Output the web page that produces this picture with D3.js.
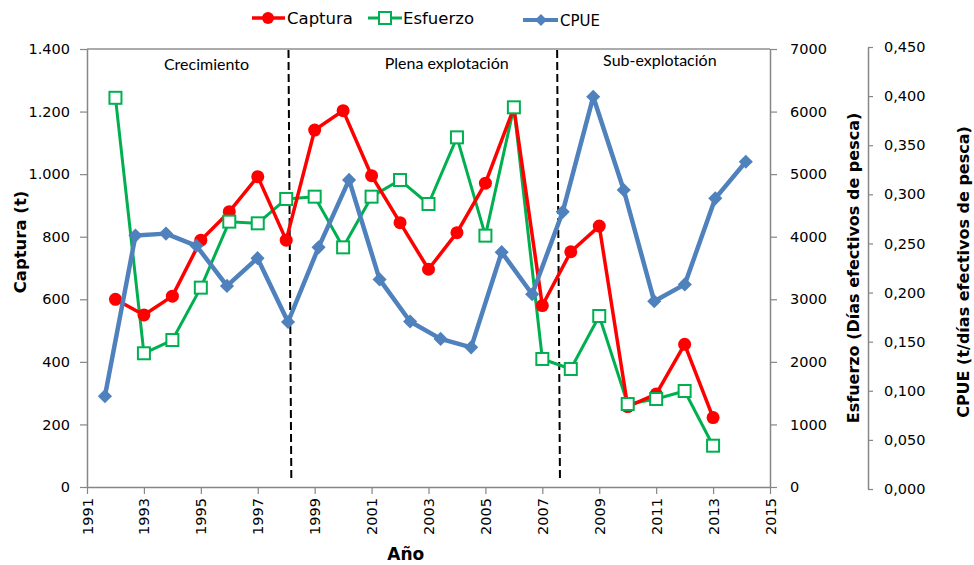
<!DOCTYPE html>
<html>
<head>
<meta charset="utf-8">
<script src="https://cdn.jsdelivr.net/npm/d3@7"></script>
<style>
  html, body { margin: 0; padding: 0; background: #fff; }
  svg { display: block; }
  text { font-family: "DejaVu Sans", Verdana, sans-serif; fill: #000; }
</style>
</head>
<body>
<svg id="chart" width="974" height="565"></svg>
<script>
// ---------- DATA ----------
const years = [1992,1993,1994,1995,1996,1997,1998,1999,2000,2001,2002,2003,2004,2005,2006,2007,2008,2009,2010,2011,2012,2013];
const captura = [600,550,610,789,880,992,789,1141,1203,995,845,696,813,971,1212,580,752,834,257,297,456,222];
const esfuerzo = [6220,2137,2349,3186,4241,4214,4603,4640,3830,4640,4906,4523,5588,4017,6068,2046,1886,2733,1326,1406,1534,660];
const cpueYears = [1992,1993,1994,1995,1996,1997,1998,1999,2000,2001,2002,2003,2004,2005,2006,2007,2008,2009,2010,2011,2012,2013];
const cpue = [0.0945,0.258,0.260,0.2476,0.2068,0.235,0.170,0.246,0.3147,0.2134,0.1705,0.1528,0.1442,0.2411,0.1983,0.2822,0.3993,0.3044,0.1911,0.2083,0.2959,0.3332];
const xTicks = [1991,1993,1995,1997,1999,2001,2003,2005,2007,2009,2011,2013,2015];
const capturaTicks = [0,200,400,600,800,1000,1200,1400];
const esfuerzoTicks = [0,1000,2000,3000,4000,5000,6000,7000];
const cpueTicks = [0,0.05,0.10,0.15,0.20,0.25,0.30,0.35,0.40,0.45];
const phaseLabels = ["Crecimiento","Plena explotación","Sub-explotación"];
const phaseLabelYears = [1995.2, 2003.64, 2011.13];
const phaseBoundsTop = [1998.08, 2007.52];
const phaseBoundsBottom = [1998.18, 2007.62];
const seriesNames = ["Captura","Esfuerzo","CPUE"];

// ---------- LAYOUT ----------
const L = 87, R = 770, T = 49, B = 487;
const cpueAxisX = 868;
const svg = d3.select("#chart");

const x = d3.scaleLinear().domain([1991, 2015]).range([L, R]);
const xC = d3.scalePoint().domain(cpueYears).range([x(1991.63), x(2014.15)]);
const yL = d3.scaleLinear().domain([0, 1400]).range([B, T]);
const yR = d3.scaleLinear().domain([0, 7000]).range([B, T]);
const yC = d3.scaleLinear().domain([0, 0.45]).range([B + 2, T - 2]);

const es = d3.formatLocale({decimal: ",", thousands: ".", grouping: [3], currency: ["", ""]});
const fmtL = es.format(",.0f");
const fmtC = es.format(".3f");

const axisColor = "#868686";
const tickFont = "14.5px";

function styleAxis(g) {
  g.selectAll(".domain").attr("stroke", axisColor).attr("stroke-width", 1.5);
  g.selectAll(".tick line").attr("stroke", axisColor).attr("stroke-width", 1.2);
  g.selectAll("text").style("font-size", tickFont).style("font-family", "'DejaVu Sans', sans-serif").attr("fill", "#000");
}

// plot border (top)
svg.append("line").attr("x1", L).attr("x2", R).attr("y1", T).attr("y2", T)
  .attr("stroke", "#595959").attr("stroke-width", 1.2);

// Left axis
svg.append("g").attr("transform", `translate(${L},0)`)
  .call(d3.axisLeft(yL).tickValues(capturaTicks).tickFormat(fmtL).tickSize(7).tickPadding(10).tickSizeOuter(0))
  .call(styleAxis);

// Right axis (Esfuerzo)
svg.append("g").attr("transform", `translate(${R},0)`)
  .call(d3.axisRight(yR).tickValues(esfuerzoTicks).tickFormat(d3.format("d")).tickSize(7).tickPadding(13).tickSizeOuter(0))
  .call(styleAxis);

// CPUE axis
svg.append("g").attr("transform", `translate(${cpueAxisX},0)`)
  .call(d3.axisRight(yC).tickValues(cpueTicks).tickFormat(fmtC).tickSize(5).tickPadding(11).tickSizeOuter(0))
  .call(styleAxis);

// Bottom axis
const xg = svg.append("g").attr("transform", `translate(0,${B})`)
  .call(d3.axisBottom(x).tickValues(xTicks).tickFormat(d3.format("d")).tickSize(7).tickSizeOuter(0))
  .call(styleAxis);
xg.selectAll(".tick text")
  .attr("transform", "rotate(-90)")
  .attr("x", -11).attr("y", 0).attr("dy", "0.35em")
  .style("text-anchor", "end");

// Axis titles
svg.append("text").attr("transform", `translate(26,${(T + B) / 2 - 26}) rotate(-90)`)
  .attr("text-anchor", "middle").style("font-weight", "bold").style("font-size", "16.5px").text("Captura (t)");
svg.append("text").attr("transform", `translate(859,${(T + B) / 2}) rotate(-90)`)
  .attr("text-anchor", "middle").style("font-weight", "bold").style("font-size", "16px").text("Esfuerzo (Días efectivos de pesca)");
svg.append("text").attr("transform", `translate(969,${(T + B) / 2 + 4}) rotate(-90)`)
  .attr("text-anchor", "middle").style("font-weight", "bold").style("font-size", "16px").text("CPUE (t/días efectivos de pesca)");
svg.append("text").attr("x", x(2002.2)).attr("y", 560)
  .attr("text-anchor", "middle").style("font-weight", "bold").style("font-size", "17px").text("Año");

// Phase dashed lines
phaseBoundsTop.forEach((t, i) => {
  svg.append("line")
    .attr("x1", x(t)).attr("x2", x(phaseBoundsBottom[i]))
    .attr("y1", T + 1).attr("y2", B - 5)
    .attr("stroke", "#000").attr("stroke-width", 2).attr("stroke-dasharray", "8,4");
});
// Phase labels
phaseLabels.forEach((lab, i) => {
  svg.append("text").attr("x", x(phaseLabelYears[i])).attr("y", [70, 69, 66][i])
    .attr("text-anchor", "middle")
    .style("font-family", "Lato, 'Open Sans', sans-serif").style("font-size", "16px")
    .text(lab);
});

// ---------- SERIES ----------
const green = "#00B050", red = "#FF0000", blue = "#4F81BD";

// Esfuerzo
const lineE = d3.line().x((d, i) => x(years[i])).y(d => yR(d));
svg.append("path").datum(esfuerzo).attr("d", lineE).attr("fill", "none")
  .attr("stroke", green).attr("stroke-width", 3).attr("stroke-linejoin", "round");

// Captura
const lineC = d3.line().x((d, i) => x(years[i])).y(d => yL(d));
svg.append("path").datum(captura).attr("d", lineC).attr("fill", "none")
  .attr("stroke", red).attr("stroke-width", 3.5).attr("stroke-linejoin", "round");
svg.append("g").selectAll("circle").data(captura).join("circle")
  .attr("cx", (d, i) => x(years[i])).attr("cy", d => yL(d)).attr("r", 6.5).attr("fill", red);

// Esfuerzo markers (on top of red)
svg.append("g").selectAll("rect").data(esfuerzo).join("rect")
  .attr("x", (d, i) => x(years[i]) - 6).attr("y", d => yR(d) - 6)
  .attr("width", 12).attr("height", 12)
  .attr("fill", "#fff").attr("stroke", green).attr("stroke-width", 2);

// CPUE
const lineP = d3.line().x((d, i) => xC(cpueYears[i])).y(d => yC(d));
svg.append("path").datum(cpue).attr("d", lineP).attr("fill", "none")
  .attr("stroke", blue).attr("stroke-width", 4.5).attr("stroke-linejoin", "round");
const diamond = d3.symbol().type(d3.symbolSquare).size(100);
svg.append("g").selectAll("path").data(cpue).join("path")
  .attr("d", diamond)
  .attr("transform", (d, i) => `translate(${xC(cpueYears[i])},${yC(d)}) rotate(45)`)
  .attr("fill", blue);

// ---------- LEGEND ----------
const lg = svg.append("g");
// Captura
lg.append("line").attr("x1", 252).attr("x2", 285).attr("y1", 18).attr("y2", 18).attr("stroke", red).attr("stroke-width", 3.5);
lg.append("circle").attr("cx", 268).attr("cy", 18).attr("r", 6).attr("fill", red);
lg.append("text").attr("x", 287).attr("y", 24).style("font-size", "16.5px").text(seriesNames[0]);
// Esfuerzo
lg.append("line").attr("x1", 368).attr("x2", 402).attr("y1", 18).attr("y2", 18).attr("stroke", green).attr("stroke-width", 3);
lg.append("rect").attr("x", 379).attr("y", 12).attr("width", 12).attr("height", 12).attr("fill", "#fff").attr("stroke", green).attr("stroke-width", 2);
lg.append("text").attr("x", 403).attr("y", 24).style("font-size", "16.5px").text(seriesNames[1]);
// CPUE
lg.append("line").attr("x1", 523).attr("x2", 558).attr("y1", 20).attr("y2", 20).attr("stroke", blue).attr("stroke-width", 4);
lg.append("path").attr("d", d3.symbol().type(d3.symbolSquare).size(70)).attr("transform", "translate(541,20) rotate(45)").attr("fill", blue);
lg.append("text").attr("x", 560).attr("y", 25.5).style("font-size", "15px").text(seriesNames[2]);
</script>
</body>
</html>
